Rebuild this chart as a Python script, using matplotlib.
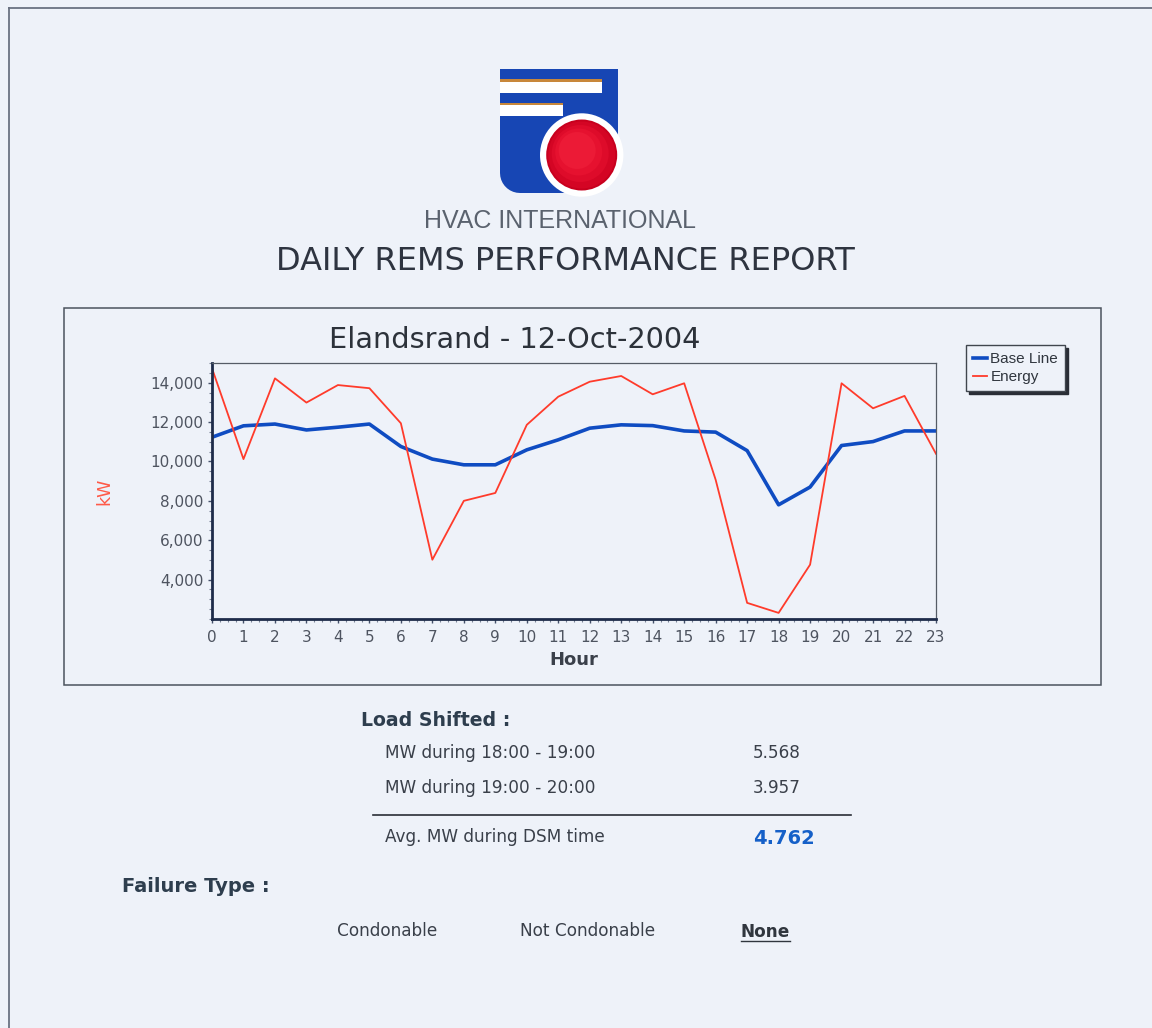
import matplotlib
matplotlib.use('Agg')
import matplotlib.pyplot as plt
import numpy as np
from matplotlib.patches import Rectangle, Circle, Polygon
from matplotlib.ticker import AutoMinorLocator, StrMethodFormatter

# ---------------- data ----------------
hours = list(range(24))
hour_labels = [str(h) for h in hours]
base_line = [11230, 11810, 11900, 11600, 11740, 11900, 10760, 10120, 9830, 9830,
             10590, 11100, 11690, 11860, 11820, 11550, 11490, 10550, 7800, 8700,
             10810, 11010, 11550, 11550]
energy = [14730, 10120, 14220, 12990, 13880, 13720, 11940, 5010, 8000, 8400,
          11860, 13290, 14050, 14340, 13410, 13970, 9070, 2820, 2310, 4760,
          13970, 12700, 13330, 10390]
y_ticks = [4000, 6000, 8000, 10000, 12000, 14000]
series_names = ['Base Line', 'Energy']

chart_title = 'Elandsrand - 12-Oct-2004'
load_rows = ['MW during 18:00 - 19:00', 'MW during 19:00 - 20:00']
load_values = ['5.568', '3.957']
avg_label = 'Avg. MW during DSM time'
avg_value = '4.762'
failure_types = ['Condonable', 'Not Condonable', 'None']

# ---------------- style ----------------
BG = '#eef2f9'
BLUE = '#0f4cc2'
RED = '#ff3b2b'
W, H = 1152, 1028

fig = plt.figure(figsize=(W / 100, H / 100), dpi=100, facecolor=BG)


def fx(x):
    return x / W


def fy(y):
    return 1 - y / H


# overlay in pixel coordinates for page decoration
ov = fig.add_axes([0, 0, 1, 1])
ov.set_xlim(0, W)
ov.set_ylim(H, 0)
ov.axis('off')
ov.set_zorder(0)

# page border (top + left)
ov.plot([8, W], [7.5, 7.5], color='#6a7282', lw=1.3, solid_capstyle='butt')
ov.plot([8.5, 8.5], [7, H], color='#6a7282', lw=1.3, solid_capstyle='butt')

# ---- logo ----
cx, cy, r_ring, r_ball = 581.7, 155.0, 41.7, 35.5
pts = [(500, 69), (618, 69), (618, 134.5), (564.5, 193), (520, 193)]
ang = np.linspace(np.pi / 2, np.pi, 10)
for a in ang:
    pts.append((520 + 20 * np.cos(a), 173 + 20 * np.sin(a)))
ov.add_patch(Polygon(pts, closed=True, facecolor='#1746b4', edgecolor='none'))
# white stripes with orange lines
ov.add_patch(Rectangle((500, 79.3), 102, 2.6, facecolor='#c8873a', edgecolor='none'))
ov.add_patch(Rectangle((500, 81.9), 102, 11.3, facecolor='white', edgecolor='none'))
ov.add_patch(Rectangle((500, 102.5), 63, 2.6, facecolor='#c8873a', edgecolor='none'))
ov.add_patch(Rectangle((500, 105.1), 63, 10.4, facecolor='white', edgecolor='none'))
# sphere
ov.add_patch(Circle((cx, cy), r_ring, facecolor='white', edgecolor='none'))
ov.add_patch(Circle((cx, cy), r_ball, facecolor='#c8001e', edgecolor='none'))
for k, col in enumerate(['#d40524', '#de0b2a', '#e6112f', '#ec1a36']):
    rr = r_ball - 2 - 5 * k
    ov.add_patch(Circle((cx - 1.5 * k, cy - 1.5 * k), rr, facecolor=col, edgecolor='none'))

# company / report headings
fig.text(fx(560), fy(221), 'HVAC INTERNATIONAL', family='Liberation Sans', fontsize=18,
         color='#5a626e', ha='center', va='center')
fig.text(fx(565), fy(262), 'DAILY REMS PERFORMANCE REPORT', family='DejaVu Sans', fontsize=23,
         color='#2e3440', ha='center', va='center')

# chart box
ov.add_patch(Rectangle((63.5, 307.5), 1037, 377, fill=False, edgecolor='#4c545e', lw=1.1))

# ---------------- chart ----------------
ax = fig.add_axes([fx(212), fy(619), (936 - 212) / W, (619 - 363) / H])
ax.set_zorder(2)
ax.set_facecolor(BG)
ax.plot(hours, base_line, color=BLUE, lw=2.6, label=series_names[0], solid_joinstyle='round')
ax.plot(hours, energy, color=RED, lw=1.3, label=series_names[1])
ax.set_xlim(0, 23)
ax.set_ylim(2000, 15000)
ax.set_xticks(hours)
ax.set_xticklabels(hour_labels)
ax.set_yticks(y_ticks)
ax.yaxis.set_major_formatter(StrMethodFormatter('{x:,.0f}'))
ax.xaxis.set_minor_locator(AutoMinorLocator(4))
ax.yaxis.set_minor_locator(AutoMinorLocator(4))
ax.tick_params(which='major', direction='out', length=3, width=1, color='#44506a',
               labelsize=11, labelcolor='#4e5460', pad=3)
ax.tick_params(axis='x', which='major', pad=5)
ax.tick_params(which='minor', direction='out', length=2, width=0.8, color='#7a8496')
for s in ['left', 'bottom']:
    ax.spines[s].set_color('#1e2c4a')
    ax.spines[s].set_linewidth(2.0)
for s in ['top', 'right']:
    ax.spines[s].set_color('#555c66')
    ax.spines[s].set_linewidth(0.9)

ax.set_ylabel('kW', color='#ff5a48', fontsize=12.5)
ax.yaxis.set_label_coords((113 - 212) / 724, 0.5)
ax.set_xlabel('Hour', fontsize=13, fontweight='bold', color='#3a404a')
ax.xaxis.set_label_coords(0.5, (619 - 651) / 256)

fig.text(fx(515), fy(340), chart_title, fontsize=20.7, color='#2c323a', ha='center', va='center')

leg = ax.legend(loc='upper left', bbox_to_anchor=(fx(966), fy(345)), bbox_transform=fig.transFigure,
                frameon=True, fancybox=False, shadow={'color': '#2a2e36', 'alpha': 1},
                edgecolor='#40464e', facecolor=BG, framealpha=1,
                prop={'family': 'Liberation Sans', 'size': 11},
                borderpad=0.45, labelspacing=0.28, handlelength=0.9, handletextpad=0.25,
                borderaxespad=0)
leg.get_frame().set_linewidth(1.0)
for t in leg.get_texts():
    t.set_color('#30363e')

# ---------------- summary section ----------------
TXT = '#3a404a'
HEAD = '#2e3e4e'
fig.text(fx(361), fy(720), 'Load Shifted :', fontsize=13.6, fontweight='bold', color=HEAD,
         ha='left', va='center')
row_y = [753, 788]
for lbl, val, yy in zip(load_rows, load_values, row_y):
    fig.text(fx(385), fy(yy), lbl, fontsize=12.2, color=TXT, ha='left', va='center')
    fig.text(fx(753), fy(yy), val, fontsize=12.2, color=TXT, ha='left', va='center')
ov.plot([373, 851], [815, 815], color='#2a2e36', lw=1.2)
fig.text(fx(385), fy(837), avg_label, fontsize=12.2, color=TXT, ha='left', va='center')
fig.text(fx(753), fy(839), avg_value, fontsize=14, fontweight='bold', color='#1560c8',
         ha='left', va='center')

fig.text(fx(122), fy(886), 'Failure Type :', fontsize=14, fontweight='bold', color=HEAD,
         ha='left', va='center')
fig.text(fx(337), fy(931), failure_types[0], fontsize=12.2, color=TXT, ha='left', va='center')
fig.text(fx(520), fy(931), failure_types[1], fontsize=12.2, color=TXT, ha='left', va='center')
fig.text(fx(741), fy(932), failure_types[2], fontsize=12.2, fontweight='bold', color='#30363e',
         ha='left', va='center')
ov.plot([741, 790], [941, 941], color='#30363e', lw=1.0)

fig.savefig('out.png', dpi=100, facecolor=BG)
